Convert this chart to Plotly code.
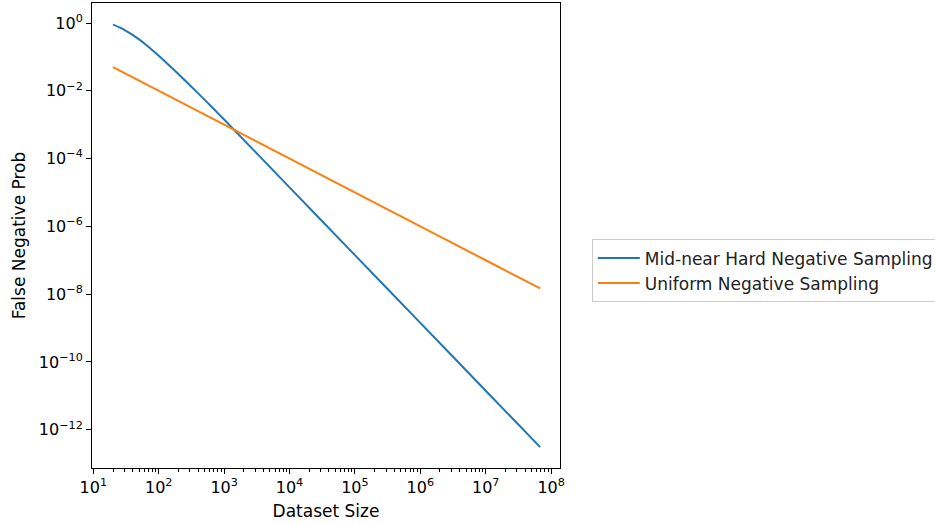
import plotly.graph_objects as go

# Data (dataset size vs false negative probability)
dataset_size = [20, 25.1, 31.6, 39.8, 50.1, 63.1, 79.4, 100, 126, 158, 200, 251,
                316, 398, 501, 631, 794, 1000, 1e4, 1e5, 1e6, 1e7, 6.8e7]
log_fn_mid_near = [-0.05, -0.13, -0.23, -0.35, -0.485, -0.635, -0.795, -0.965,
                   -1.141, -1.321, -1.505, -1.691, -1.879, -2.069, -2.261, -2.455,
                   -2.651, -2.849, -4.849, -6.849, -8.849, -10.849, -12.515]
fn_mid_near = [10 ** v for v in log_fn_mid_near]
fn_uniform = [0.05, 0.0398, 0.0316, 0.0251, 0.02, 0.0158, 0.0126, 0.01,
              0.00794, 0.00631, 0.005, 0.00398, 0.00316, 0.00251, 0.002,
              0.00158, 0.00126, 0.001, 1e-4, 1e-5, 1e-6, 1e-7, 1.47e-8]

series_names = ["Mid-near Hard Negative Sampling", "Uniform Negative Sampling"]
x_tick_vals = [10 ** k for k in range(1, 9)]
x_tick_text = [f"10<sup>{k}</sup>" for k in range(1, 9)]
y_tick_vals = [10 ** k for k in range(0, -13, -2)]
y_tick_text = ["10<sup>0</sup>"] + [f"10<sup>\u2212{k}</sup>" for k in range(2, 13, 2)]
x_minor = [m * 10 ** k for k in range(0, 9) for m in range(2, 10)]

fig = go.Figure()
fig.add_trace(go.Scatter(x=dataset_size, y=fn_mid_near, mode="lines",
                         name=series_names[0], line=dict(color="#1f77b4", width=2, shape="spline", smoothing=0.8),
                         legendgroup="a"))
fig.add_trace(go.Scatter(x=dataset_size, y=fn_uniform, mode="lines",
                         name=series_names[1], line=dict(color="#ff7f0e", width=2),
                         legendgroup="b"))

font = dict(family="DejaVu Sans", size=14, color="black")
tick_font = dict(family="DejaVu Sans", size=16, color="black")
legend_font = dict(family="DejaVu Sans", size=17, color="#222222")
fig.update_layout(
    width=935, height=524,
    margin=dict(l=92, r=375, t=3, b=56, autoexpand=False),
    paper_bgcolor="white", plot_bgcolor="white",
    font=font,
    showlegend=True,
    legend=dict(x=1.068, y=0.424, xanchor="left", yanchor="middle",
                bordercolor="#cccccc", borderwidth=1, font=legend_font,
                tracegroupgap=0, itemwidth=42),
)
fig.update_xaxes(type="log", range=[0.980, 8.136], showgrid=False, zeroline=False,
                 showline=True, linecolor="black", linewidth=1, mirror=True,
                 ticks="outside", ticklen=5, tickwidth=1, tickcolor="black",
                 tickvals=x_tick_vals, ticktext=x_tick_text, tickfont=tick_font,
                 minor=dict(tickvals=x_minor, ticks="outside", ticklen=3, tickwidth=1, tickcolor="black"),
                 title=dict(text="Dataset Size", standoff=8))
fig.update_yaxes(type="log", range=[-13.13, 0.59], showgrid=False, zeroline=False,
                 showline=True, linecolor="black", linewidth=1, mirror=True,
                 ticks="outside", ticklen=5, tickwidth=1, tickcolor="black",
                 tickvals=y_tick_vals, ticktext=y_tick_text, tickfont=tick_font,
                 title=dict(text="False Negative Prob", standoff=8))

fig.write_html("out.html")
